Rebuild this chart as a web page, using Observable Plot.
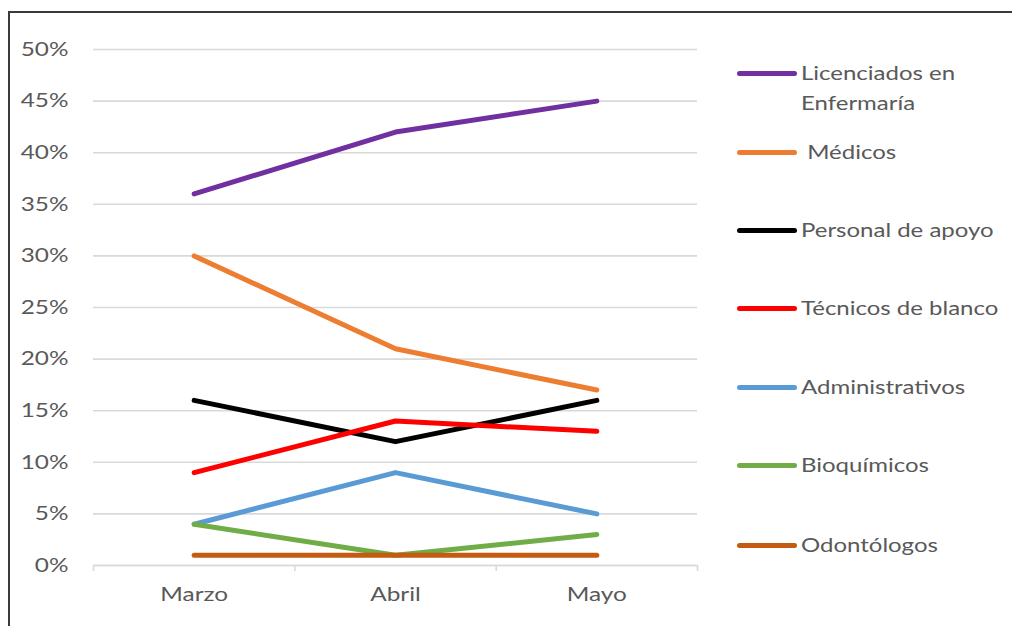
<!DOCTYPE html>
<html><head><meta charset="utf-8">
<script src="https://cdn.jsdelivr.net/npm/d3@7"></script>
<script src="https://cdn.jsdelivr.net/npm/@observablehq/plot@0.6"></script>
<style>
html,body{margin:0;padding:0;background:#fff;}
#wrap{position:relative;width:1012px;height:626px;overflow:hidden;font-family:Lato,"Open Sans",sans-serif;}
#frame{position:absolute;left:8px;top:11px;width:1100px;height:700px;border-top:2px solid #3a3a3a;border-left:2px solid #3a3a3a;pointer-events:none;}
#legend{position:absolute;left:737px;top:0;width:275px;}
.item{position:absolute;left:0;display:flex;align-items:flex-start;font-size:19.5px;color:#595959;line-height:30px;white-space:nowrap;}
.sw{width:60px;height:5px;border-radius:3px;margin-top:13px;margin-right:4px;flex:none;}
.lbl{display:inline-block;transform:scaleX(1.23);transform-origin:0 50%;}
</style></head>
<body><div id="wrap"><div id="chart"></div><div id="frame"></div><div id="legend"></div></div>
<script>
const months = ["Marzo", "Abril", "Mayo"];
const series = ["Licenciados en Enfermaría", "Médicos", "Personal de apoyo", "Técnicos de blanco", "Administrativos", "Bioquímicos", "Odontólogos"];
const legendLabels = ["Licenciados en<br>Enfermaría", "\u00a0Médicos", "Personal de apoyo", "Técnicos de blanco", "Administrativos", "Bioquímicos", "Odontólogos"];
const colors = ["#7030A0", "#ED7D31", "#000000", "#FF0000", "#5B9BD5", "#70AD47", "#C55A11"];
const licenciados = [0.36, 0.42, 0.45];
const medicos = [0.30, 0.21, 0.17];
const personalApoyo = [0.16, 0.12, 0.16];
const tecnicos = [0.09, 0.14, 0.13];
const administrativos = [0.04, 0.09, 0.05];
const bioquimicos = [0.04, 0.01, 0.03];
const odontologos = [0.01, 0.01, 0.01];
const yTicks = [0, 0.05, 0.10, 0.15, 0.20, 0.25, 0.30, 0.35, 0.40, 0.45, 0.50];
const legendTops = [58, 137, 215, 293, 372, 450, 530];

const allValues = [licenciados, medicos, personalApoyo, tecnicos, administrativos, bioquimicos, odontologos];
const data = [];
series.forEach((s, i) => allValues[i].forEach((v, j) => data.push({serie: s, mes: j, valor: v})));
const boundaries = d3.range(months.length + 1).map(d => d - 0.5);

const chart = Plot.plot({
  width: 1012, height: 626,
  marginLeft: 93, marginRight: 315, marginTop: 49, marginBottom: 61,
  style: {fontFamily: "Lato, 'Open Sans', sans-serif", fontSize: "19.5px", color: "#595959", background: "transparent"},
  x: {type: "linear", domain: [-0.5, months.length - 0.5]},
  y: {domain: [0, 0.5]},
  color: {domain: series, range: colors},
  marks: [
    Plot.gridY(yTicks, {stroke: "#d9d9d9", strokeOpacity: 1, strokeWidth: 1.6}),
    Plot.axisY(yTicks, {tickFormat: d3.format(".0%"), tickSize: 0, tickPadding: 25, fill: "#595959", fontSize: 19.5, label: null}),
    Plot.ruleY([0], {stroke: "#d9d9d9", strokeWidth: 1.6}),
    Plot.axisX(boundaries, {tickSize: 6, tickFormat: () => "", stroke: "#d9d9d9", strokeWidth: 1.6, label: null}),
    Plot.axisX(d3.range(months.length), {tickSize: 0, tickPadding: 22, tickFormat: i => months[i], fill: "#595959", fontSize: 19.5, label: null}),
    Plot.line(data, {x: "mes", y: "valor", z: "serie", stroke: "serie", strokeWidth: 5, strokeLinecap: "round", strokeLinejoin: "round"})
  ]
});
d3.select(chart).selectAll("g[aria-label$='tick label'] text").each(function() {
  const t = this.getAttribute("transform") || "";
  this.setAttribute("transform", t + " scale(1.25,1)");
});
document.getElementById("chart").appendChild(chart);

const legend = document.getElementById("legend");
series.forEach((s, i) => {
  const div = document.createElement("div");
  div.className = "item";
  div.style.top = legendTops[i] + "px";
  div.innerHTML = `<div class="sw" style="background:${colors[i]}"></div><div class="lbl">${legendLabels[i]}</div>`;
  legend.appendChild(div);
});
</script></body></html>
